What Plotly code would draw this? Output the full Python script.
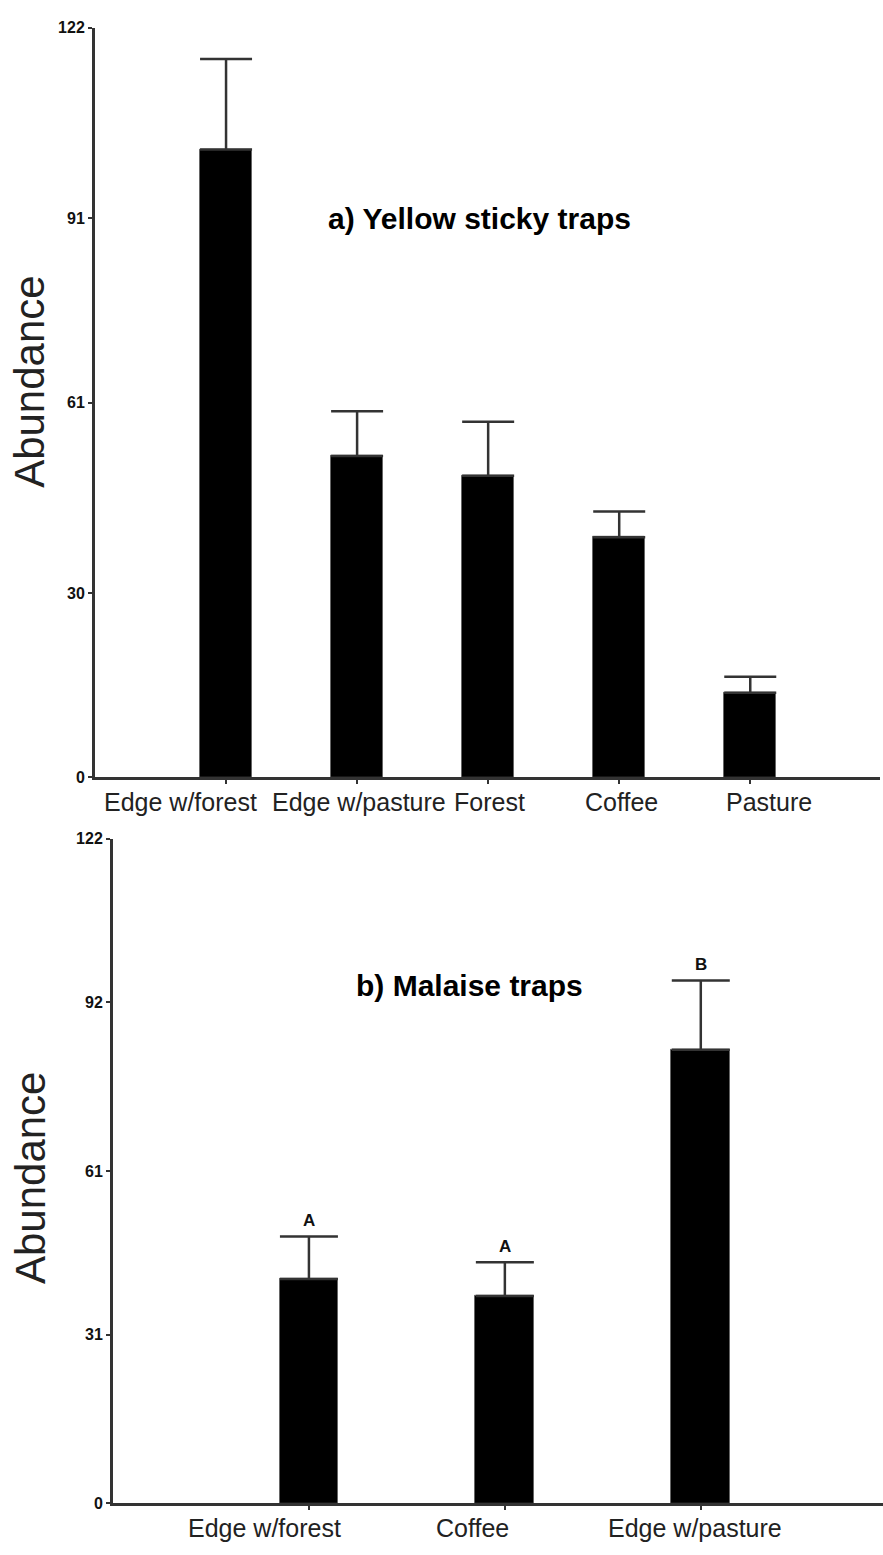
import plotly.graph_objects as go

# ---- data ----
yellow_sites = ["Edge w/forest", "Edge w/pasture", "Forest", "Coffee", "Pasture"]
yellow_mean = [102.2, 52.3, 49.1, 39.1, 13.8]
yellow_err = [14.7, 7.3, 8.8, 4.2, 2.6]
yellow_ticks = [0, 30, 61, 91, 122]

malaise_sites = ["Edge w/forest", "Coffee", "Edge w/pasture"]
malaise_mean = [41.2, 38.1, 83.3]
malaise_err = [7.8, 6.2, 12.7]
malaise_groups = ["A", "A", "B"]
malaise_ticks = [0, 31, 61, 92, 122]

# ---- page geometry (pixels) ----
W, H = 883, 1555


def px_x(p):
    return p / W


def px_y(p):
    return 1 - p / H


AXIS_COL = "#333333"
FONT = "Liberation Sans, Arial, sans-serif"

fig = go.Figure()

pos_top = list(range(1, len(yellow_sites) + 1))
pos_bot = list(range(1, len(malaise_sites) + 1))

fig.add_trace(go.Bar(
    x=pos_top, y=yellow_mean, width=0.40,
    marker=dict(color="black", line=dict(color="#666666", width=1)),
    error_y=dict(type="data", array=yellow_err, symmetric=False, arrayminus=[0] * len(yellow_err),
                 color=AXIS_COL, thickness=2.5, width=26),
    xaxis="x", yaxis="y", showlegend=False,
))

fig.add_trace(go.Bar(
    x=pos_bot, y=malaise_mean, width=0.30,
    marker=dict(color="black", line=dict(color="#666666", width=1)),
    error_y=dict(type="data", array=malaise_err, symmetric=False, arrayminus=[0] * len(malaise_err),
                 color=AXIS_COL, thickness=2.5, width=29),
    xaxis="x2", yaxis="y2", showlegend=False,
))

axis_common = dict(
    showline=True, linewidth=3, linecolor=AXIS_COL,
    showgrid=False, zeroline=False,
    ticks="outside", ticklen=4, tickwidth=2, tickcolor=AXIS_COL,
)
tick_font = dict(family=FONT, size=16, color="#111111", weight="bold")

fig.update_layout(
    width=W, height=H,
    margin=dict(l=0, r=0, t=0, b=0),
    paper_bgcolor="white", plot_bgcolor="white",
    bargap=0,
    xaxis=dict(domain=[px_x(95), px_x(880)], range=[0, 5.99],
               tickvals=pos_top, ticktext=[""] * len(pos_top), anchor="y", **axis_common),
    yaxis=dict(domain=[px_y(778), px_y(20)], range=[0, 122],
               tickvals=yellow_ticks, ticktext=[str(t) for t in yellow_ticks],
               tickfont=tick_font, anchor="x", **axis_common),
    xaxis2=dict(domain=[px_x(113), 1.0], range=[0, 3.93],
                tickvals=pos_bot, ticktext=[""] * len(pos_bot), anchor="y2", **axis_common),
    yaxis2=dict(domain=[px_y(1512), px_y(840)], range=[0, 122],
                tickvals=malaise_ticks, ticktext=[str(t) for t in malaise_ticks],
                tickfont=tick_font, anchor="x2", **axis_common),
)

label_font = dict(family=FONT, size=25, color="#222222")
annotations = []

# category labels under each bar
top_shift = [-46, 2, 1, 2, 19]
for p, name, s in zip(pos_top, yellow_sites, top_shift):
    annotations.append(dict(x=p, y=0, xref="x", yref="y", text=name, showarrow=False,
                            xanchor="center", yanchor="middle",
                            xshift=s, yshift=-25, font=label_font))
bot_shift = [-44, -32, -6]
for p, name, s in zip(pos_bot, malaise_sites, bot_shift):
    annotations.append(dict(x=p, y=0, xref="x2", yref="y2", text=name, showarrow=False,
                            xanchor="center", yanchor="middle",
                            xshift=s, yshift=-25, font=label_font))

# significance letters above the error caps
for p, m, e, g in zip(pos_bot, malaise_mean, malaise_err, malaise_groups):
    annotations.append(dict(x=p, y=m + e, xref="x2", yref="y2", text=g, showarrow=False,
                            xanchor="center", yanchor="middle",
                            yshift=16, font=dict(family=FONT, size=17, color="#111111", weight="bold")))

# panel titles
title_font = dict(family=FONT, size=30, color="black", weight="bold")
annotations.append(dict(x=px_x(480), y=px_y(213), xref="paper", yref="paper",
                        xanchor="center", yanchor="middle",
                        text="a) Yellow sticky traps", showarrow=False, font=title_font))
annotations.append(dict(x=px_x(470), y=px_y(988), xref="paper", yref="paper",
                        xanchor="center", yanchor="middle",
                        text="b) Malaise traps", showarrow=False, font=title_font))

# y-axis titles
ytitle_font = dict(family=FONT, size=42, color="#222222")
annotations.append(dict(x=px_x(30), y=px_y(378), xref="paper", yref="paper",
                        xanchor="center", yanchor="middle",
                        text="Abundance", textangle=-90, showarrow=False, font=ytitle_font))
annotations.append(dict(x=px_x(30), y=px_y(1183), xref="paper", yref="paper",
                        xanchor="center", yanchor="middle",
                        text="Abundance", textangle=-90, showarrow=False, font=ytitle_font))

fig.update_layout(annotations=annotations)

fig.write_html("out.html")
